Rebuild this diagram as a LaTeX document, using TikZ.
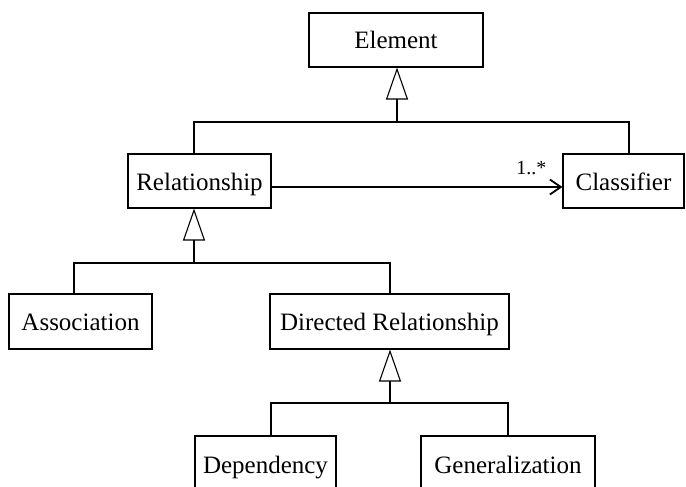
\documentclass[tikz,border=0pt]{standalone}
\usepackage{fontspec}
\setmainfont{Liberation Serif}
\usetikzlibrary{arrows.meta}
\begin{document}
\begin{tikzpicture}[x=1pt,y=-1pt,
  cls/.style={draw, line width=1.1pt, minimum height=54pt, inner sep=0pt,
    text height=18pt, text depth=-1pt,
    font=\fontsize{25}{30}\selectfont, fill=white},
  link/.style={line width=1.1pt},
  gen/.style={link, -{Triangle[open, length=32pt, width=22pt, line width=1.1pt]}},
  assoc/.style={line width=1.8pt, -{Straight Barb[length=11pt, width=15pt, line width=1.8pt]}},
  mult/.style={font=\fontsize{20}{24}\selectfont, inner sep=0pt}]
\clip (0,0) rectangle (686,487);
\fill[white] (0,0) rectangle (686,487);

% classes
\node[cls, minimum width=174pt] (element) at (396,40) {Element};
\node[cls, minimum width=143pt] (relationship) at (199.5,181) {Relationship};
\node[cls, minimum width=121pt] (classifier) at (623.5,181) {Classifier};
\node[cls, minimum width=143pt, minimum height=55pt] (association) at (80.5,321.5) {Association};
\node[cls, minimum width=239pt, minimum height=55pt] (directed) at (389.5,321.5) {Directed Relationship};
\node[cls, minimum width=141pt, minimum height=56pt] (dependency) at (265.5,464) {Dependency};
\node[cls, minimum width=174pt, minimum height=56pt] (generalization) at (508,464) {Generalization};

% generalization of Relationship and Classifier into Element
\coordinate (e0) at (397,122);
\coordinate (e1) at (194,122);
\coordinate (e2) at (629,122);
\draw[gen] (e0) -- (e0 |- element.south);
\draw[link] (e1 |- relationship.north) -- (e1) -- (e2) -- (e2 |- classifier.north);

% generalization of Association and Directed Relationship into Relationship
\coordinate (r0) at (194,263);
\coordinate (r1) at (74,263);
\coordinate (r2) at (390,263);
\draw[gen] (r0) -- (r0 |- relationship.south);
\draw[link] (r1 |- association.north) -- (r1) -- (r2) -- (r2 |- directed.north);

% generalization of Dependency and Generalization into Directed Relationship
\coordinate (d0) at (390,403);
\coordinate (d1) at (271,403);
\coordinate (d2) at (508,403);
\draw[gen] (d0) -- (d0 |- directed.south);
\draw[link] (d1 |- dependency.north) -- (d1) -- (d2) -- (d2 |- generalization.north);

% association Relationship -> Classifier
\draw[assoc] (relationship.east |- 0,187) -- (classifier.west |- 0,187)
  node[mult, pos=1, xshift=-31pt, yshift=19pt] (m) {1..*};
\end{tikzpicture}
\end{document}
